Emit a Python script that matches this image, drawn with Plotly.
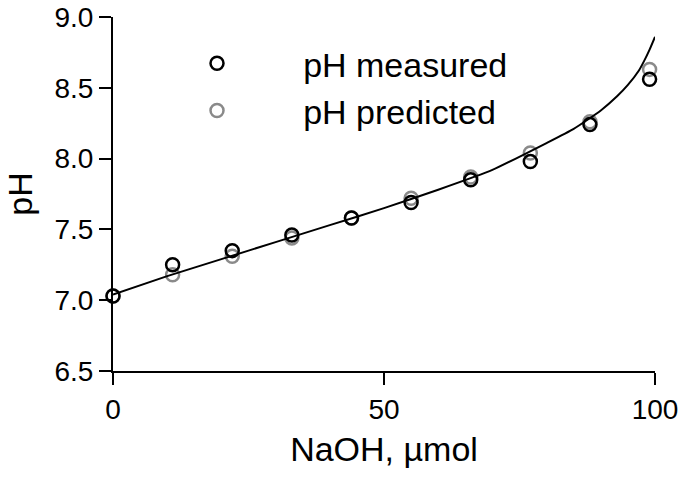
import plotly.graph_objects as go

# NaOH added (umol) and the two pH series
naoh = [0, 11, 22, 33, 44, 55, 66, 77, 88, 99]
ph_measured = [7.03, 7.25, 7.35, 7.46, 7.58, 7.69, 7.85, 7.98, 8.24, 8.56]
ph_predicted = [7.03, 7.18, 7.31, 7.44, 7.58, 7.72, 7.87, 8.04, 8.26, 8.63]

# fitted curve
fit_x = [0, 10, 20, 30, 40, 50, 60, 70, 80, 85, 90, 93, 95, 97, 98, 99, 100]
fit_y = [7.04, 7.17, 7.29, 7.41, 7.53, 7.65, 7.78, 7.92, 8.11, 8.21, 8.34,
         8.44, 8.52, 8.62, 8.69, 8.77, 8.86]

y_ticks = [6.5, 7.0, 7.5, 8.0, 8.5, 9.0]
x_ticks = [0, 50, 100]

font = "Liberation Sans, Arial, sans-serif"
pad = "\u00a0" * 7

fig = go.Figure()

fig.add_trace(go.Scatter(
    x=naoh, y=ph_predicted, mode="markers", name=pad + "pH predicted",
    marker=dict(symbol="circle-open", size=13, color="#8a8a8a",
                line=dict(width=2.5)),
    cliponaxis=False, legendrank=2,
))

fig.add_trace(go.Scatter(
    x=fit_x, y=fit_y, mode="lines",
    line=dict(color="black", width=2, shape="spline", smoothing=0.5),
    showlegend=False, cliponaxis=False,
))

fig.add_trace(go.Scatter(
    x=naoh, y=ph_measured, mode="markers", name=pad + "pH measured",
    marker=dict(symbol="circle-open", size=13, color="black",
                line=dict(width=2.5)),
    cliponaxis=False, legendrank=1,
))

fig.update_layout(
    width=681, height=482,
    margin=dict(l=113, r=26, t=17, b=111),
    paper_bgcolor="white", plot_bgcolor="white",
    font=dict(family=font, size=28, color="black"),
    showlegend=True,
    legend=dict(x=0.155, y=0.95, xanchor="left", yanchor="top",
                font=dict(size=34), bgcolor="rgba(0,0,0,0)",
                itemwidth=30, tracegroupgap=0),
    xaxis=dict(
        range=[0, 100], tickvals=x_ticks, ticks="outside", ticklen=12,
        tickwidth=2, tickcolor="black", showline=True, linewidth=2,
        linecolor="black", showgrid=False, zeroline=False, automargin=False,
        ticklabeloverflow="allow",
        title=dict(text="NaOH, µmol", font=dict(size=34), standoff=14),
    ),
    yaxis=dict(
        range=[6.5, 9.0], tickvals=y_ticks, tickformat=".1f",
        ticks="outside", ticklen=12, tickwidth=2, tickcolor="black",
        showline=True, linewidth=2, linecolor="black", showgrid=False,
        zeroline=False, automargin=False, ticklabeloverflow="allow",
    ),
)

# y title placed by hand, further left than the axis title would sit
fig.add_annotation(
    text="pH", textangle=-90, font=dict(size=34),
    xref="paper", yref="paper", x=-0.172, y=0.5,
    xanchor="center", yanchor="middle", showarrow=False,
)

# drop the default 8px body margin so the figure sits at the page corner
fig.write_html("out.html", config={"displayModeBar": False},
               post_script="document.body.style.margin = '0';")
